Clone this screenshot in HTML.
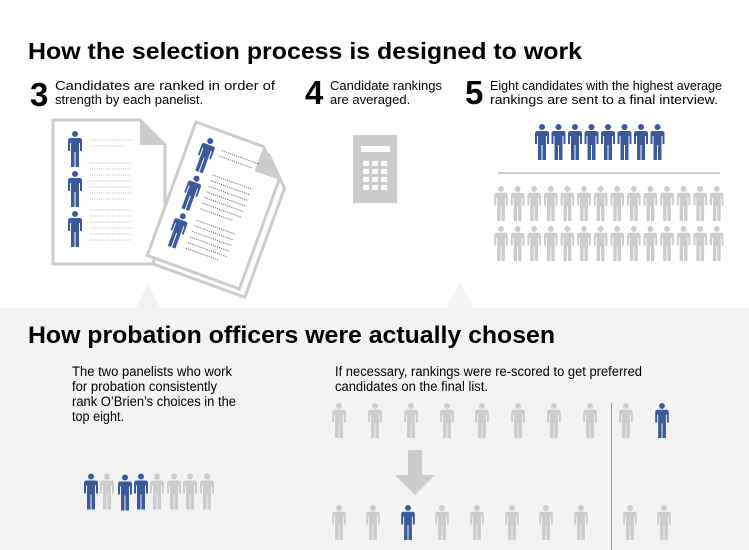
<!DOCTYPE html>
<html><head><meta charset="utf-8"><style>
html,body{margin:0;padding:0;background:#fff}
svg{display:block}
text{font-family:"Liberation Sans",Arial,sans-serif}
</style></head><body>
<svg width="749" height="550" viewBox="0 0 749 550" xmlns="http://www.w3.org/2000/svg">
<defs>
<symbol id="p" viewBox="0 0 14 36">
<circle cx="7" cy="3" r="3"/>
<path d="M2.5 7 H11.5 Q14 7 14 9.5 V20 H12 V12 H11 V36 H7.5 V21 H6.5 V36 H3 V12 H2 V20 H0 V9.5 Q0 7 2.5 7Z"/>
</symbol>
</defs>
<rect x="0" y="308" width="749" height="242" fill="#f3f3f3"/>
<polygon points="136,308 148,283 160,308" fill="#f3f3f3"/>
<polygon points="447,308 460,281 473,308" fill="#f3f3f3"/>

<text x="28" y="59" font-size="23" font-weight="bold" textLength="554" lengthAdjust="spacingAndGlyphs">How the selection process is designed to work</text>

<text x="30" y="106" font-size="33" font-weight="bold">3</text>
<text x="55" y="90" font-size="13" textLength="220" lengthAdjust="spacingAndGlyphs">Candidates are ranked in order of</text>
<text x="55" y="104" font-size="13">strength by each panelist.</text>
<text x="305" y="104" font-size="33" font-weight="bold">4</text>
<text x="330" y="90" font-size="13">Candidate rankings</text>
<text x="330" y="104" font-size="13">are averaged.</text>
<text x="465" y="104" font-size="33" font-weight="bold">5</text>
<text x="490" y="90" font-size="13" textLength="232" lengthAdjust="spacingAndGlyphs">Eight candidates with the highest average</text>
<text x="490" y="104" font-size="13" textLength="228" lengthAdjust="spacingAndGlyphs">rankings are sent to a final interview.</text>

<!-- left doc -->
<path d="M53 120 H140 L165 145 V264 H53Z" fill="#fff" stroke="#ccc" stroke-width="3"/>
<path d="M140 120 V145 H165Z" fill="#ccc"/>
<g fill="#3a5a9c">
<use href="#p" x="68" y="131" width="14" height="36"/>
<use href="#p" x="68" y="171" width="14" height="36"/>
<use href="#p" x="68" y="211" width="14" height="36"/>
</g>
<g stroke="#bbb" stroke-width="1" stroke-dasharray="1,1.2">
<line x1="90" y1="140" x2="131" y2="140"/><line x1="90" y1="146" x2="125" y2="146"/>
<line x1="90" y1="163" x2="131" y2="163"/><line x1="90" y1="169" x2="131" y2="169"/><line x1="90" y1="175" x2="131" y2="175"/><line x1="90" y1="181" x2="131" y2="181"/><line x1="90" y1="187" x2="131" y2="187"/><line x1="90" y1="193" x2="131" y2="193"/><line x1="90" y1="199" x2="125" y2="199"/>
<line x1="90" y1="210" x2="131" y2="210"/><line x1="90" y1="216" x2="131" y2="216"/><line x1="90" y1="222" x2="131" y2="222"/><line x1="90" y1="228" x2="131" y2="228"/><line x1="90" y1="234" x2="131" y2="234"/><line x1="90" y1="240" x2="131" y2="240"/>
</g>
<!-- right doc rotated -->
<g transform="translate(-14 2) rotate(20 230 205)">
<path d="M190 138 H262 L288 164 V280 H190Z" fill="#fff" stroke="#ccc" stroke-width="3"/>
<path d="M182 132 H254 L280 158 V274 H182Z" fill="#fff" stroke="#ccc" stroke-width="3"/>
<path d="M254 132 V158 H280Z" fill="#ccc"/>
<g fill="#3a5a9c">
<use href="#p" x="195" y="142" width="14" height="36"/>
<use href="#p" x="195" y="182" width="14" height="36"/>
<use href="#p" x="195" y="222" width="14" height="36"/>
</g>
<g stroke="#555" stroke-width="1" stroke-dasharray="1,1.2">
<line x1="216" y1="150" x2="256" y2="150"/><line x1="216" y1="156" x2="250" y2="156"/>
<line x1="216" y1="176" x2="258" y2="176"/><line x1="216" y1="182" x2="258" y2="182"/><line x1="216" y1="188" x2="258" y2="188"/><line x1="216" y1="194" x2="258" y2="194"/><line x1="216" y1="200" x2="258" y2="200"/><line x1="216" y1="206" x2="258" y2="206"/><line x1="216" y1="212" x2="250" y2="212"/>
<line x1="216" y1="224" x2="258" y2="224"/><line x1="216" y1="230" x2="258" y2="230"/><line x1="216" y1="236" x2="258" y2="236"/><line x1="216" y1="242" x2="258" y2="242"/><line x1="216" y1="248" x2="258" y2="248"/><line x1="216" y1="254" x2="250" y2="254"/>
</g>
</g>

<!-- calculator -->
<rect x="353" y="135" width="44" height="68" fill="#ccc"/>
<rect x="361" y="146" width="29" height="6" fill="#fff"/>
<g fill="#fff">
<rect x="363" y="161" width="6" height="5"/><rect x="372" y="161" width="6" height="5"/><rect x="381" y="161" width="6" height="5"/>
<rect x="363" y="169" width="6" height="5"/><rect x="372" y="169" width="6" height="5"/><rect x="381" y="169" width="6" height="5"/>
<rect x="363" y="177" width="6" height="5"/><rect x="372" y="177" width="6" height="5"/><rect x="381" y="177" width="6" height="5"/>
<rect x="363" y="185" width="6" height="5"/><rect x="372" y="185" width="6" height="5"/><rect x="381" y="185" width="6" height="5"/>
</g>

<!-- top right people -->
<g fill="#3a5a9c">
<use href="#p" x="535" y="124" width="14" height="36"/><use href="#p" x="551.5" y="124" width="14" height="36"/><use href="#p" x="568" y="124" width="14" height="36"/><use href="#p" x="584.5" y="124" width="14" height="36"/><use href="#p" x="601" y="124" width="14" height="36"/><use href="#p" x="617.5" y="124" width="14" height="36"/><use href="#p" x="634" y="124" width="14" height="36"/><use href="#p" x="650.5" y="124" width="14" height="36"/>
</g>
<line x1="498" y1="173" x2="720" y2="173" stroke="#999" stroke-width="1"/>
<g fill="#ccc">
<use href="#p" x="494" y="186" width="14" height="35"/><use href="#p" x="510.6" y="186" width="14" height="35"/><use href="#p" x="527.2" y="186" width="14" height="35"/><use href="#p" x="543.8" y="186" width="14" height="35"/><use href="#p" x="560.4" y="186" width="14" height="35"/><use href="#p" x="577" y="186" width="14" height="35"/><use href="#p" x="593.6" y="186" width="14" height="35"/><use href="#p" x="610.2" y="186" width="14" height="35"/><use href="#p" x="626.8" y="186" width="14" height="35"/><use href="#p" x="643.4" y="186" width="14" height="35"/><use href="#p" x="660" y="186" width="14" height="35"/><use href="#p" x="676.6" y="186" width="14" height="35"/><use href="#p" x="693.2" y="186" width="14" height="35"/><use href="#p" x="709.8" y="186" width="14" height="35"/>
<use href="#p" x="494" y="226" width="14" height="35"/><use href="#p" x="510.6" y="226" width="14" height="35"/><use href="#p" x="527.2" y="226" width="14" height="35"/><use href="#p" x="543.8" y="226" width="14" height="35"/><use href="#p" x="560.4" y="226" width="14" height="35"/><use href="#p" x="577" y="226" width="14" height="35"/><use href="#p" x="593.6" y="226" width="14" height="35"/><use href="#p" x="610.2" y="226" width="14" height="35"/><use href="#p" x="626.8" y="226" width="14" height="35"/><use href="#p" x="643.4" y="226" width="14" height="35"/><use href="#p" x="660" y="226" width="14" height="35"/><use href="#p" x="676.6" y="226" width="14" height="35"/><use href="#p" x="693.2" y="226" width="14" height="35"/><use href="#p" x="709.8" y="226" width="14" height="35"/>
</g>

<text x="28" y="343" font-size="24" font-weight="bold" textLength="527" lengthAdjust="spacingAndGlyphs">How probation officers were actually chosen</text>
<g font-size="13.5">
<text x="72" y="376" textLength="160" lengthAdjust="spacingAndGlyphs">The two panelists who work</text>
<text x="72" y="391" textLength="145" lengthAdjust="spacingAndGlyphs">for probation consistently</text>
<text x="72" y="406" textLength="164" lengthAdjust="spacingAndGlyphs">rank O’Brien’s choices in the</text>
<text x="72" y="421" textLength="52" lengthAdjust="spacingAndGlyphs">top eight.</text>
<text x="335" y="376" textLength="307" lengthAdjust="spacingAndGlyphs">If necessary, rankings were re-scored to get preferred</text>
<text x="335" y="391" textLength="153" lengthAdjust="spacingAndGlyphs">candidates on the final list.</text>
</g>

<!-- bottom left people -->
<g fill="#ccc">
<use href="#p" x="100" y="473" width="14" height="37"/><use href="#p" x="150" y="473" width="14" height="37"/><use href="#p" x="167" y="473" width="14" height="37"/><use href="#p" x="183" y="473" width="14" height="37"/><use href="#p" x="200" y="473" width="14" height="37"/>
</g>
<g fill="#3a5a9c">
<use href="#p" x="84" y="473" width="14" height="37"/><use href="#p" x="118" y="474" width="14" height="37"/><use href="#p" x="134" y="473" width="14" height="37"/>
</g>

<!-- bottom right -->
<g fill="#ccc">
<use href="#p" x="332" y="403" width="14" height="35"/><use href="#p" x="368" y="403" width="14" height="35"/><use href="#p" x="404" y="403" width="14" height="35"/><use href="#p" x="440" y="403" width="14" height="35"/><use href="#p" x="475" y="403" width="14" height="35"/><use href="#p" x="511" y="403" width="14" height="35"/><use href="#p" x="547" y="403" width="14" height="35"/><use href="#p" x="583" y="403" width="14" height="35"/><use href="#p" x="619" y="403" width="14" height="35"/>
<use href="#p" x="332" y="505" width="14" height="35"/><use href="#p" x="366" y="505" width="14" height="35"/><use href="#p" x="435" y="505" width="14" height="35"/><use href="#p" x="470" y="505" width="14" height="35"/><use href="#p" x="505" y="505" width="14" height="35"/><use href="#p" x="539" y="505" width="14" height="35"/><use href="#p" x="574" y="505" width="14" height="35"/><use href="#p" x="623" y="505" width="14" height="35"/><use href="#p" x="657" y="505" width="14" height="35"/>
</g>
<g fill="#3a5a9c">
<use href="#p" x="655" y="403" width="14" height="35"/>
<use href="#p" x="401" y="505" width="14" height="35"/>
</g>
<line x1="611.5" y1="403" x2="611.5" y2="550" stroke="#999" stroke-width="1"/>
<path d="M408 450 H422 V475 H435 L415 495 L395 475 H408Z" fill="#ccc"/>
</svg>
</body></html>
